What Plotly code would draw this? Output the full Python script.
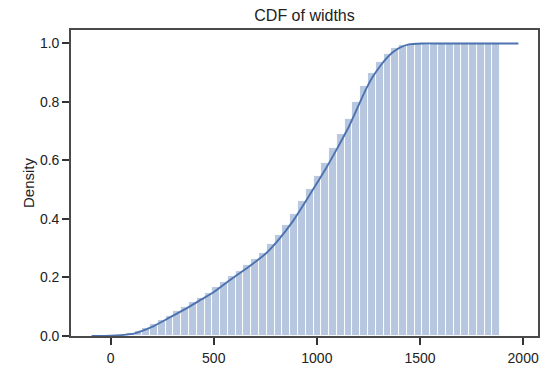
import numpy as np
import plotly.graph_objects as go

# Histogram (cumulative density) bins
bin_first_edge = 3.0
bin_width = 37.72
cum_density = [0.001, 0.004, 0.009, 0.017, 0.028, 0.041, 0.056, 0.070, 0.085, 0.100,
               0.115, 0.131, 0.148, 0.166, 0.185, 0.205, 0.223, 0.242, 0.263, 0.285,
               0.314, 0.346, 0.379, 0.418, 0.460, 0.503, 0.547, 0.592, 0.641, 0.690,
               0.743, 0.800, 0.855, 0.900, 0.936, 0.965, 0.984, 0.995, 0.999, 1.0,
               1.0, 1.0, 1.0, 1.0, 1.0, 1.0, 1.0, 1.0, 1.0, 1.0]

# KDE cumulative curve
kde_x = [-92, -50, 0, 50, 117, 198, 278, 359, 440, 504, 592, 680, 754, 820, 882,
         963, 1045, 1100, 1156, 1237, 1270, 1301, 1335, 1365, 1400, 1446, 1510, 1600, 1977]
kde_y = [0, 0.0003, 0.001, 0.003, 0.009, 0.03, 0.06, 0.091, 0.125, 0.152, 0.198, 0.242,
         0.283, 0.334, 0.391, 0.48, 0.574, 0.643, 0.717, 0.842, 0.885, 0.917, 0.947,
         0.968, 0.985, 0.997, 1.0, 1.0, 1.0]

x_ticks = [0, 500, 1000, 1500, 2000]
y_ticks = [0.0, 0.2, 0.4, 0.6, 0.8, 1.0]

n = len(cum_density)
centers = bin_first_edge + bin_width * (np.arange(n) + 0.5)

FONT = "Liberation Sans, Arial, Helvetica, sans-serif"

fig = go.Figure()
fig.add_trace(go.Bar(
    x=centers, y=cum_density, width=bin_width,
    marker=dict(color="rgba(76,114,176,0.4)", line=dict(color="white", width=0.9)),
    hoverinfo="skip", showlegend=False,
))
fig.add_trace(go.Scatter(
    x=kde_x, y=kde_y, mode="lines",
    line=dict(color="#4c72b0", width=1.9, shape="spline", smoothing=0.6),
    showlegend=False,
))

axis_common = dict(
    showline=True, linecolor="#4a4a4a", linewidth=1.6, mirror=True,
    ticks="outside", ticklen=7, tickwidth=1.5, tickcolor="#333",
    showgrid=False, zeroline=False,
    tickfont=dict(family=FONT, size=14, color="#222"),
)

fig.update_layout(
    width=543, height=365,
    margin=dict(l=71, r=3, t=30, b=29),
    paper_bgcolor="white", plot_bgcolor="white",
    bargap=0,
    title=dict(text="CDF of widths", x=0.5, xref="paper", xanchor="center",
               y=0.958, yanchor="middle",
               font=dict(family=FONT, size=16, color="#222")),
    xaxis=dict(range=[-192, 2072], tickvals=x_ticks, ticklabelstandoff=1,
               automargin=False, **axis_common),
    yaxis=dict(range=[0, 1.046], tickvals=y_ticks, tickformat=".1f",
               title=dict(text="Density", standoff=2,
                          font=dict(family=FONT, size=15, color="#222")),
               **axis_common),
)

fig.write_html(
    "out.html",
    config={"displayModeBar": False},
    post_script="document.body.style.margin='0';document.body.style.overflow='hidden';",
)
